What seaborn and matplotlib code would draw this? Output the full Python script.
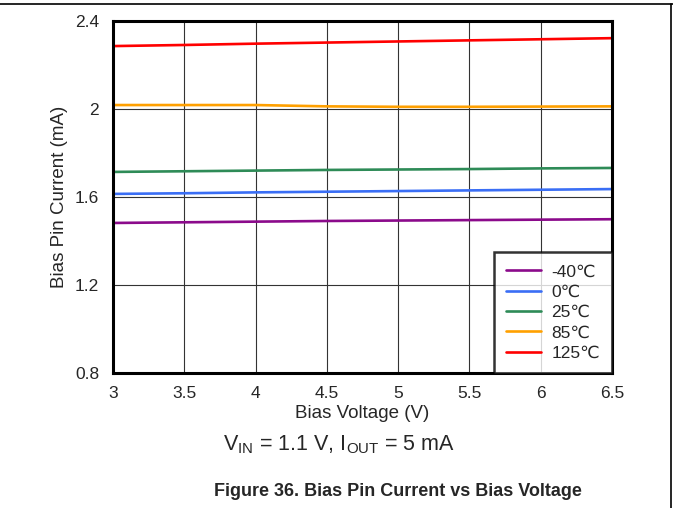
import numpy as np
import pandas as pd
import matplotlib
matplotlib.use("Agg")
import matplotlib.pyplot as plt
import seaborn as sns
from matplotlib.lines import Line2D

sns.set_style("white")
plt.rcParams['font.family'] = ['Liberation Sans', 'DejaVu Sans']

# Data
voltage = [3.0, 3.5, 4.0, 4.5, 5.0, 5.5, 6.0, 6.5]
i_m40 = [1.482, 1.485, 1.488, 1.491, 1.493, 1.495, 1.497, 1.499]
i_0 = [1.614, 1.617, 1.621, 1.624, 1.627, 1.630, 1.633, 1.636]
i_25 = [1.714, 1.717, 1.720, 1.723, 1.725, 1.727, 1.730, 1.732]
i_85 = [2.018, 2.018, 2.018, 2.012, 2.010, 2.010, 2.011, 2.012]
i_125 = [2.286, 2.291, 2.297, 2.302, 2.307, 2.312, 2.317, 2.322]

labels = ['-40\u2103', '0\u2103', '25\u2103', '85\u2103', '125\u2103']
colors = ['#8B0A8B', '#3A6EF5', '#2E8B57', '#FFA000', '#FF0000']

df = pd.concat([
    pd.DataFrame({'voltage': voltage, 'current': vals, 'temp': lab})
    for vals, lab in zip([i_m40, i_0, i_25, i_85, i_125], labels)
])

fig = plt.figure(figsize=(6.73, 5.08), dpi=100)
ax = fig.add_axes([113 / 673, 1 - 373 / 508, 499 / 673, 352 / 508])

sns.lineplot(data=df, x='voltage', y='current', hue='temp', hue_order=labels,
             palette=colors, linewidth=1.9, ax=ax)

ax.set_xlim(3, 6.5)
ax.set_ylim(0.8, 2.4)
ax.set_xticks([3, 3.5, 4, 4.5, 5, 5.5, 6, 6.5])
ax.set_xticklabels(['3', '3.5', '4', '4.5', '5', '5.5', '6', '6.5'])
ax.set_yticks([0.8, 1.2, 1.6, 2.0, 2.4])
ax.set_yticklabels(['0.8', '1.2', '1.6', '2', '2.4'])
ax.grid(True, color='#333333', linewidth=0.8)
ax.set_axisbelow(True)
for s in ax.spines.values():
    s.set_linewidth(2.2)
    s.set_color('black')
ax.tick_params(labelsize=12.5, length=0)
ax.tick_params(axis='x', pad=9)
ax.tick_params(axis='y', pad=10)
ax.set_xlabel('Bias Voltage (V)', fontsize=13.5)
ax.set_ylabel('Bias Pin Current (mA)', fontsize=13.5)
ax.xaxis.set_label_coords(0.5, (373 - 413) / 352)
ax.xaxis.label.set_va('center')
ax.yaxis.set_label_coords((60 - 113) / 499, 0.5)
ax.yaxis.label.set_va('center')

leg = ax.legend(loc='lower right', fontsize=12.5, frameon=True, fancybox=False,
                borderaxespad=0, handlelength=2.0, handletextpad=0.6,
                labelspacing=0.3, borderpad=0.7)
leg.get_frame().set_edgecolor('black')
leg.get_frame().set_linewidth(1.8)
leg.set_title(None)

fig.text(339 / 673, 1 - 445 / 508, r'$\mathregular{V_{IN}}$ = 1.1 V, $\mathregular{I_{OUT}}$ = 5 mA',
         ha='center', va='center', fontsize=15.5)
fig.text(398 / 673, 1 - 492 / 508, 'Figure 36. Bias Pin Current vs Bias Voltage',
         ha='center', va='center', fontsize=13, fontweight='bold')

# page frame lines
fig.add_artist(Line2D([0, 1], [1 - 4 / 508, 1 - 4 / 508], color='black', linewidth=1.2))
fig.add_artist(Line2D([671 / 673, 671 / 673], [0, 1 - 4 / 508], color='black', linewidth=1.2))

fig.savefig('out.png', dpi=100)
